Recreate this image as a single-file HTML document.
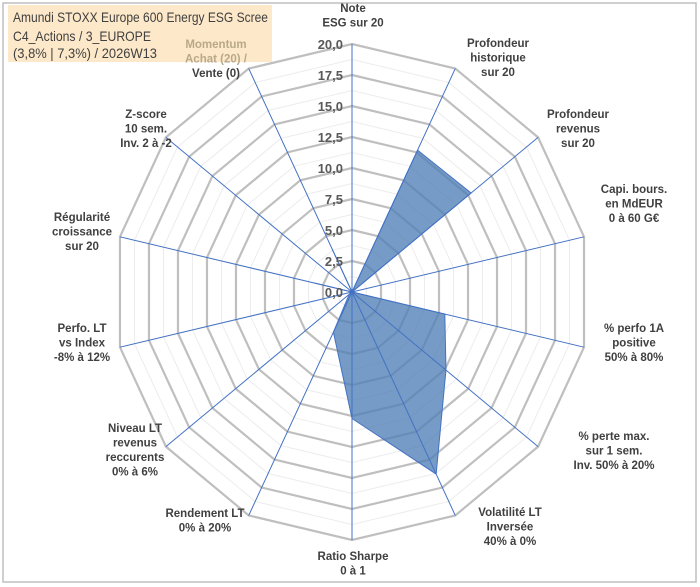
<!DOCTYPE html>
<html><head><meta charset="utf-8"><style>
body{margin:0;background:#fff;}
svg{display:block;font-family:"Liberation Sans",Arial,sans-serif;}
.lbl{font-size:11.5px;font-weight:bold;fill:#404040;text-anchor:middle;}
.tick{font-size:13px;font-weight:bold;fill:#595959;text-anchor:end;}
</style></head><body>
<svg id="chart" width="700" height="587">
<rect x="3" y="3" width="693" height="579" fill="#fff" stroke="#bfbfbf" stroke-width="1.5"/>
<g id="grid"></g>
<g id="series"></g>
<g id="axes"></g>
<g id="ticks"></g>
<rect x="8" y="5" width="264" height="57" fill="#fde9c9"/>
<text x="13" y="22" font-size="14" fill="#404040" textLength="255" lengthAdjust="spacingAndGlyphs">Amundi STOXX Europe 600 Energy ESG Scree</text>
<text x="13" y="41" font-size="14" fill="#404040" textLength="138" lengthAdjust="spacingAndGlyphs">C4_Actions / 3_EUROPE</text>
<text x="13" y="58" font-size="14" fill="#404040" textLength="144" lengthAdjust="spacingAndGlyphs">(3,8% | 7,3%) / 2026W13</text>
<g id="labels"></g>
</svg>
<script>
const categories=["Note|ESG sur 20","Profondeur|historique|sur 20","Profondeur|revenus|sur 20","Capi. bours.|en MdEUR|0 à 60 G€","% perfo 1A|positive|50% à 80%","% perte max.|sur 1 sem.|Inv. 50% à 20%","Volatilité LT|Inversée|40% à 0%","Ratio Sharpe|0 à 1","Rendement LT|0% à 20%","Niveau LT|revenus|reccurents|0% à 6%","Perfo. LT|vs Index|-8% à 12%","Régularité|croissance|sur 20","Z-score|10 sem.|Inv. 2 à -2","Momentum|Achat (20) /|Vente (0)"];
const values=[0,12.7,12.8,0,8.0,10.1,16.3,10.2,3.6,0.3,0,3.2,0,3.9];
const tickLabels=["0,0","2,5","5,0","7,5","10,0","12,5","15,0","17,5","20,0"];
const labelPos=[[353,12],[498,47],[578,118],[634,193],[634,332],[614,440],[510,516],[353,560],[205,517],[135,432],[82,332],[82,221],[146,118],[216,48]];
const cx=352,cy=292,rx=238,ry=248,maxV=20,N=categories.length;
const NS="http://www.w3.org/2000/svg";
function pt(i,v){const a=i*2*Math.PI/N;return [cx+v/maxV*rx*Math.sin(a),cy-v/maxV*ry*Math.cos(a)];}
function mk(t,attrs,parent){const e=document.createElementNS(NS,t);for(const k in attrs)e.setAttribute(k,attrs[k]);document.getElementById(parent).appendChild(e);return e;}
for(let s=1;s<=16;s++){const v=s*1.25;const pts=[];for(let i=0;i<N;i++)pts.push(pt(i,v).join(","));
const major=s%2===0;
const r=mk("polygon",{points:pts.join(" "),fill:"none",stroke:major?"#bfbfbf":"#ececec","stroke-width":major?2.2:1},"grid");

}
const sp=values.map((v,i)=>pt(i,v).join(",")).join(" ");
const poly=mk("polygon",{points:sp,fill:"#4f7fb6","fill-opacity":0.78,stroke:"#4472c4","stroke-width":1},"series");


for(let i=0;i<N;i++){const [x,y]=pt(i,maxV);
const l=mk("line",{x1:cx,y1:cy,x2:x,y2:y,stroke:"#4472c4","stroke-width":1},"axes");

}
tickLabels.forEach((t,k)=>{const v=k*2.5;const y=cy-v/maxV*ry+5;
const e=mk("text",{x:cx-9,y:y,class:"tick"},"ticks");e.textContent=t;

});
categories.forEach((c,i)=>{const [x,y]=labelPos[i];const lines=c.split("|");
const g=mk("text",{x:x,y:y,class:"lbl"},"labels");


lines.forEach((ln,j)=>{const ts=document.createElementNS(NS,"tspan");ts.setAttribute("x",x);ts.setAttribute("y",y+j*14.5);
if(i===13&&j<2)ts.setAttribute("fill","#b8a98a");ts.textContent=ln;g.appendChild(ts);});});
</script>
</body></html>
